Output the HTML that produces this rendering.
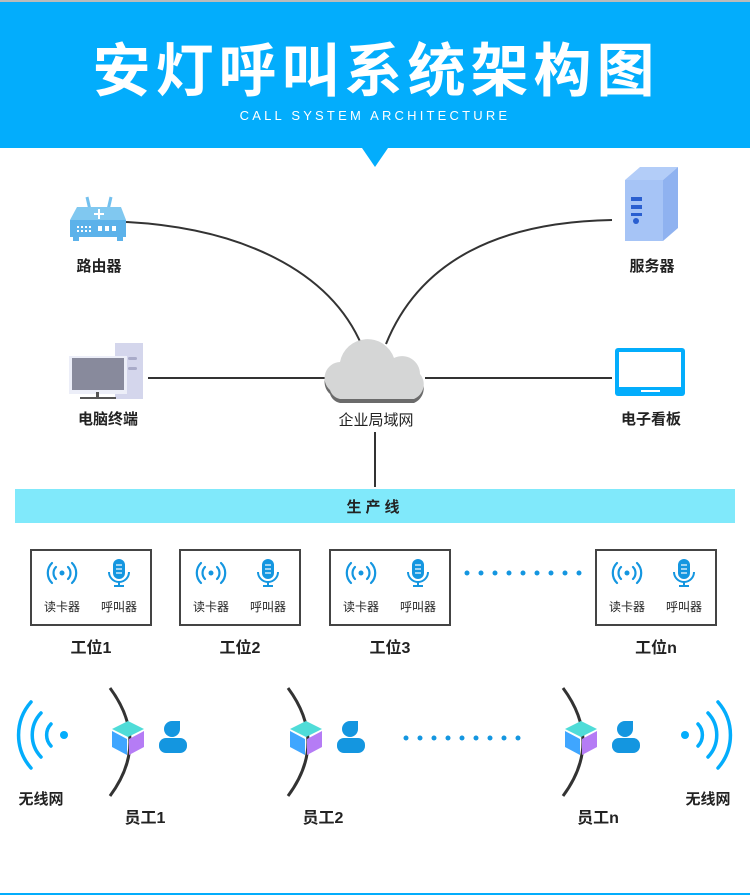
<!DOCTYPE html>
<html><head><meta charset="utf-8"><style>
html,body{margin:0;padding:0;background:#fff;}
svg{display:block;}
text{font-family:"Liberation Sans","Noto Sans CJK SC",sans-serif;}
</style></head><body>
<svg width="750" height="895" viewBox="0 0 750 895" xmlns="http://www.w3.org/2000/svg">
<defs>
<g id="cube">
 <polygon points="0,-16 16,-8 0,0 -16,-8" fill="#4fdcd8"/>
 <polygon points="-16,-6 -1,2 -1,18 -16,10" fill="#3fa6ff"/>
 <polygon points="1,2 16,-6 16,10 1,18" fill="#b57cf5"/>
</g>
<g id="person" fill="#1496e0">
 <path d="M0,-17 h8 v8 a8,8 0 1 1 -8,-8z"/>
 <rect x="-13" y="0" width="28" height="15" rx="7"/>
</g>
<g id="reader" fill="none" stroke="#1496e0" stroke-width="2.2" stroke-linecap="round">
 <circle cx="0" cy="0" r="2.5" fill="#1496e0" stroke="none"/>
 <path d="M-6,-6 a8.5,8.5 0 0 0 0,12 M6,-6 a8.5,8.5 0 0 1 0,12"/>
 <path d="M-10,-10 a14,14 0 0 0 0,20 M10,-10 a14,14 0 0 1 0,20"/>
</g>
<g id="mic">
 <rect x="-6" y="-14" width="12" height="20" rx="6" fill="#1496e0"/>
 <path d="M-10,-1 a10,10 0 0 0 20,0" fill="none" stroke="#1496e0" stroke-width="2"/>
 <line x1="0" y1="9" x2="0" y2="13" stroke="#1496e0" stroke-width="2"/>
 <line x1="-5" y1="13" x2="5" y2="13" stroke="#1496e0" stroke-width="2"/>
 <g stroke="#fff" stroke-width="1.2"><line x1="-3" y1="-8" x2="3" y2="-8"/><line x1="-3" y1="-4" x2="3" y2="-4"/><line x1="-3" y1="0" x2="3" y2="0"/></g>
</g>
</defs>
<rect x="0" y="0" width="750" height="2" fill="#bbb"/>
<rect x="0" y="2" width="750" height="146" fill="#03adfc"/>
<polygon points="362,148 388,148 375,167" fill="#03adfc"/>
<text x="376" y="91" text-anchor="middle" font-size="58" font-weight="bold" fill="#fff" letter-spacing="5">安灯呼叫系统架构图</text>
<text x="375" y="120" text-anchor="middle" font-size="13" fill="#fff" letter-spacing="3.2">CALL SYSTEM ARCHITECTURE</text>

<g stroke="#333" stroke-width="2" fill="none">
 <path d="M126,222 C240,228 330,270 362,346"/>
 <path d="M386,344 C420,260 500,222 612,220"/>
 <line x1="148" y1="378" x2="327" y2="378"/>
 <line x1="425" y1="378" x2="612" y2="378"/>
 <line x1="375" y1="432" x2="375" y2="487"/>
</g>
<g>
 <line x1="87" y1="197" x2="90" y2="210" stroke="#73c0ee" stroke-width="3"/>
 <line x1="111" y1="197" x2="108" y2="210" stroke="#73c0ee" stroke-width="3"/>
 <polygon points="77,207 121,207 126,220 70,220" fill="#80c8f0"/>
 <rect x="70" y="220" width="56" height="17" fill="#5cb2ea"/>
 <rect x="73" y="237" width="6" height="4" fill="#5cb2ea"/><rect x="117" y="237" width="6" height="4" fill="#5cb2ea"/>
 <g fill="#fff"><rect x="98" y="209" width="2" height="10"/><rect x="94" y="213" width="10" height="2"/>
 <rect x="98" y="226" width="4" height="5"/><rect x="105" y="226" width="4" height="5"/><rect x="112" y="226" width="4" height="5"/>
 <rect x="77" y="226" width="2" height="2"/><rect x="81" y="226" width="2" height="2"/><rect x="85" y="226" width="2" height="2"/><rect x="89" y="226" width="2" height="2"/>
 <rect x="77" y="230" width="2" height="2"/><rect x="81" y="230" width="2" height="2"/><rect x="85" y="230" width="2" height="2"/><rect x="89" y="230" width="2" height="2"/></g>
</g>
<text x="99" y="271" text-anchor="middle" font-size="15" font-weight="bold" fill="#222">路由器</text>
<g>
 <polygon points="625,180 640,167 678,167 663,180" fill="#b3cdf8"/>
 <polygon points="663,180 678,167 678,228 663,241" fill="#8fb2f0"/>
 <rect x="625" y="180" width="38" height="61" fill="#a6c4f6"/>
 <rect x="631" y="197" width="11" height="4" fill="#2a5fd0"/><rect x="631" y="205" width="11" height="4" fill="#2a5fd0"/><rect x="631" y="213" width="11" height="3" fill="#2a5fd0"/>
 <circle cx="636" cy="221" r="3" fill="#2a5fd0"/>
</g>
<text x="652" y="271" text-anchor="middle" font-size="15" font-weight="bold" fill="#222">服务器</text>
<g>
 <rect x="115" y="343" width="28" height="56" fill="#d4d6ec"/>
 <rect x="128" y="357" width="9" height="3" rx="1.5" fill="#a9abc9"/><rect x="128" y="367" width="9" height="3" rx="1.5" fill="#a9abc9"/>
 <rect x="69" y="356" width="58" height="38" fill="#eceef8"/>
 <rect x="72" y="358" width="52" height="32" fill="#888a9c"/>
 <line x1="80" y1="398" x2="116" y2="398" stroke="#555" stroke-width="2"/>
 <rect x="96" y="392" width="3" height="6" fill="#555"/>
</g>
<text x="108" y="424" text-anchor="middle" font-size="15" font-weight="bold" fill="#222">电脑终端</text>
<g>
 <path d="M330,390 a16,16 0 0 1 10,-28 a28,28 0 0 1 54,-4 a18,18 0 0 1 26,16 a16,16 0 0 1 -6,25 h-74 a13,13 0 0 1 -10,-9z" fill="#6b6b6b" transform="translate(0,4)"/>
 <path d="M330,390 a16,16 0 0 1 10,-28 a28,28 0 0 1 54,-4 a18,18 0 0 1 26,16 a16,16 0 0 1 -6,25 h-74 a13,13 0 0 1 -10,-9z" fill="#d5d6d6"/>
</g>
<text x="376" y="425" text-anchor="middle" font-size="15" fill="#222">企业局域网</text>
<g>
 <rect x="615" y="348" width="70" height="48" rx="3" fill="#03adfc"/>
 <rect x="619" y="352" width="62" height="35" fill="#fff"/>
 <rect x="641" y="390" width="19" height="2" fill="#fff"/>
</g>
<text x="651" y="424" text-anchor="middle" font-size="15" font-weight="bold" fill="#222">电子看板</text>

<rect x="15" y="489" width="720" height="34" fill="#80e9fb"/>
<text x="375" y="512" text-anchor="middle" font-size="15" font-weight="bold" fill="#222" letter-spacing="4">生产线</text>

<g stroke="#444" stroke-width="2" fill="none">
 <rect x="31" y="550" width="120" height="75"/>
 <rect x="180" y="550" width="120" height="75"/>
 <rect x="330" y="550" width="120" height="75"/>
 <rect x="596" y="550" width="120" height="75"/>
</g>
<use href="#reader" x="62" y="573"/><use href="#mic" x="119" y="573"/>
<use href="#reader" x="211" y="573"/><use href="#mic" x="268" y="573"/>
<use href="#reader" x="361" y="573"/><use href="#mic" x="418" y="573"/>
<use href="#reader" x="627" y="573"/><use href="#mic" x="684" y="573"/>
<g font-size="12" fill="#222" text-anchor="middle">
 <text x="62" y="611">读卡器</text><text x="119" y="611">呼叫器</text>
 <text x="211" y="611">读卡器</text><text x="268" y="611">呼叫器</text>
 <text x="361" y="611">读卡器</text><text x="418" y="611">呼叫器</text>
 <text x="627" y="611">读卡器</text><text x="684" y="611">呼叫器</text>
</g>
<g font-size="16" font-weight="bold" fill="#222" text-anchor="middle">
 <text x="91" y="653">工位1</text><text x="240" y="653">工位2</text><text x="390" y="653">工位3</text><text x="656" y="653">工位n</text>
</g>
<g fill="#1496e0">
 <circle cx="467" cy="573" r="2.5"/><circle cx="481" cy="573" r="2.5"/><circle cx="495" cy="573" r="2.5"/><circle cx="509" cy="573" r="2.5"/><circle cx="523" cy="573" r="2.5"/><circle cx="537" cy="573" r="2.5"/><circle cx="551" cy="573" r="2.5"/><circle cx="565" cy="573" r="2.5"/><circle cx="579" cy="573" r="2.5"/>
</g>

<g fill="none" stroke="#03adfc" stroke-width="3.5" stroke-linecap="round">
 <path d="M31,702 a50,50 0 0 0 0,66"/>
 <path d="M41,713 a32,32 0 0 0 0,44"/>
 <path d="M51,724 a16,16 0 0 0 0,22"/>
</g>
<circle cx="64" cy="735" r="4" fill="#03adfc"/>
<text x="41" y="804" text-anchor="middle" font-size="15" font-weight="bold" fill="#222">无线网</text>
<g fill="none" stroke="#03adfc" stroke-width="3.5" stroke-linecap="round">
 <path d="M718,702 a50,50 0 0 1 0,66"/>
 <path d="M708,713 a32,32 0 0 1 0,44"/>
 <path d="M698,724 a16,16 0 0 1 0,22"/>
</g>
<circle cx="685" cy="735" r="4" fill="#03adfc"/>
<text x="708" y="804" text-anchor="middle" font-size="15" font-weight="bold" fill="#222">无线网</text>

<g fill="none" stroke="#333" stroke-width="3">
 <path d="M110,688 Q150,742 110,796"/>
 <path d="M288,688 Q328,742 288,796"/>
 <path d="M563,688 Q603,742 563,796"/>
</g>
<use href="#cube" x="128" y="737"/><use href="#person" x="172" y="738"/>
<use href="#cube" x="306" y="737"/><use href="#person" x="350" y="738"/>
<use href="#cube" x="581" y="737"/><use href="#person" x="625" y="738"/>
<g fill="#1496e0">
 <circle cx="406" cy="738" r="2.5"/><circle cx="420" cy="738" r="2.5"/><circle cx="434" cy="738" r="2.5"/><circle cx="448" cy="738" r="2.5"/><circle cx="462" cy="738" r="2.5"/><circle cx="476" cy="738" r="2.5"/><circle cx="490" cy="738" r="2.5"/><circle cx="504" cy="738" r="2.5"/><circle cx="518" cy="738" r="2.5"/>
</g>
<g font-size="16" font-weight="bold" fill="#222" text-anchor="middle">
 <text x="145" y="823">员工1</text><text x="323" y="823">员工2</text><text x="598" y="823">员工n</text>
</g>
<rect x="0" y="893" width="750" height="2" fill="#03adfc"/>
</svg>
</body></html>
